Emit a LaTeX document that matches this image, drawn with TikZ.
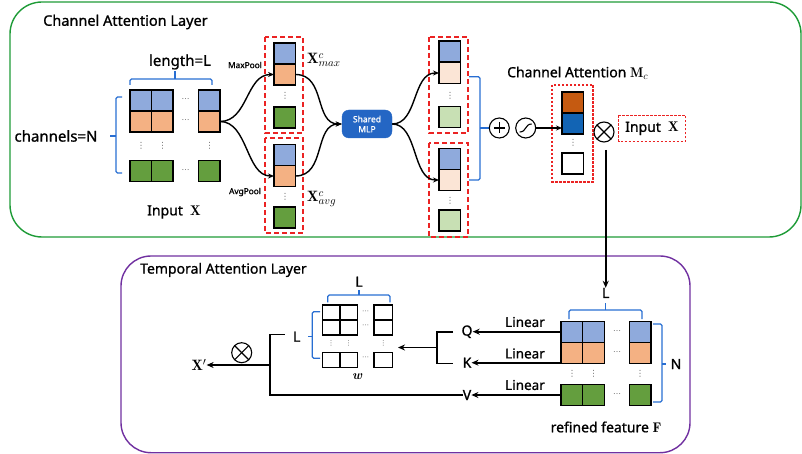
\documentclass[tikz,border=0pt]{standalone}
\usepackage{fontspec}
\setsansfont{Noto Sans}[FakeBold=1]
\newfontfamily\labelfont{Noto Sans}[FakeBold=1]
\newfontfamily\dotfont{DejaVu Sans}
\usetikzlibrary{arrows.meta,calc}

\definecolor{cblue}{RGB}{143,170,220}
\definecolor{corange}{RGB}{244,177,131}
\definecolor{cgreen}{RGB}{100,158,62}
\definecolor{lpeach}{RGB}{251,229,214}
\definecolor{lgreen}{RGB}{200,224,180}
\definecolor{dorange}{RGB}{197,90,17}
\definecolor{dblue}{RGB}{18,100,180}
\definecolor{mlpblue}{RGB}{36,102,196}
\definecolor{brblue}{RGB}{40,110,210}
\definecolor{frgreen}{RGB}{30,155,55}
\definecolor{frpurple}{RGB}{112,48,160}
\definecolor{dashred}{RGB}{235,35,35}
\definecolor{dotgray}{RGB}{110,110,110}

\tikzset{
  cell/.style={draw=black, line width=1.4pt, minimum width=21.5pt, minimum height=21pt,
    inner sep=0pt, outer sep=0pt, anchor=north west},
  acell/.style={draw=black, line width=1.3pt, minimum width=17.3pt, minimum height=15pt,
    inner sep=0pt, outer sep=0pt, anchor=north west},
  hdots/.style={font=\dotfont\fontsize{8}{8}\selectfont, text=dotgray, inner sep=0pt},
  vdotsn/.style={font=\dotfont\fontsize{8.5}{9}\selectfont, text=dotgray, inner sep=0pt},
  frame/.style={line width=1.4pt, rounded corners=32pt},
  poolbox/.style={draw=dashred, line width=1.3pt, dash pattern=on 5pt off 3pt},
  mcbox/.style={color=dashred, line width=1.2pt, dash pattern=on 2.5pt off 1.5pt},
  bracket/.style={draw=brblue, line width=1.3pt, rounded corners=1.5pt},
  flow/.style={line width=1.4pt, -{Stealth[length=6pt,width=5pt]}},
  thickflow/.style={line width=1.8pt, -{Stealth[length=7pt,width=6pt]}},
  wire/.style={line width=1.6pt},
  opline/.style={draw=black, line width=1.1pt},
  lbl/.style={font=\labelfont\fontsize{14}{16}\selectfont, inner sep=0pt},
  small/.style={font=\labelfont\fontsize{8.3}{9}\selectfont, inner sep=0pt},
  op/.style={circle, draw=black, line width=1.1pt, minimum size=20pt, inner sep=0pt},
}

\begin{document}
\begin{tikzpicture}[x=1pt,y=-1pt]
\useasboundingbox (0,0) rectangle (802,454);

% ---------------- Channel attention layer ----------------
\draw[frame, draw=frgreen] (10,2) rectangle (801,237);
\node[lbl, anchor=west, font=\labelfont\fontsize{14.5}{16}\selectfont] (catitle) at (43,22) {Channel Attention Layer};

% input tensor X
\foreach \nm/\x in {a/130, b/151.5, c/198.5} {
  \node[cell, fill=cblue]   (x\nm1) at (\x,90) {};
  \node[cell, fill=corange] (x\nm2) at (\x,111) {};
  \node[cell, fill=cgreen]  (x\nm3) at (\x,160.5) {};
}
\foreach \y in {100.5,121.5,171} \node[hdots] at (185.5,\y) {⋯};
\foreach \x in {141,162.5,209.5} \node[vdotsn] at (\x,146) {⋮};

\draw[bracket] (130,85) -- (130,79) -- (212,79) -- (212,85);
\draw[bracket] (175,79) -- (175,71);
\node[lbl, font=\labelfont\fontsize{15}{16}\selectfont] (lenlbl) at (180,62) {length=L};
\draw[bracket] (122,97) -- (116,97) -- (116,173) -- (122,173);
\draw[bracket] (116,136) -- (110,136);
\node[lbl, font=\labelfont\fontsize{15}{16}\selectfont] (chlbl) at (56,136) {channels=N};
\node[lbl] (inlbl) at (174,212) {Input\ \ $\mathbf{X}$};

% pooled vectors
\draw[poolbox] (265,37) rectangle (303,133);
\node[cell, fill=cblue]   (m1) at (274,43) {};
\node[cell, fill=corange] (m2) at (274,64) {};
\node[vdotsn] at (285,96) {⋮};
\node[cell, fill=cgreen]  (m3) at (274,107) {};

\draw[poolbox] (265,138) rectangle (303,233);
\node[cell, fill=cblue]   (g1) at (274,144.5) {};
\node[cell, fill=corange] (g2) at (274,165.5) {};
\node[vdotsn] at (285,197) {⋮};
\node[cell, fill=cgreen]  (g3) at (274,207) {};

\node[small] (maxlbl) at (245,65) {MaxPool};
\node[small] (avglbl) at (245,192) {AvgPool};
\node[inner sep=0pt, font=\fontsize{15}{16}\selectfont, anchor=west] (xmax) at (307,60) {$\mathbf{X}^{c}_{max}$};
\node[inner sep=0pt, font=\fontsize{15}{16}\selectfont, anchor=west] (xavg) at (307,199) {$\mathbf{X}^{c}_{avg}$};

\draw[flow] (xc2.east) .. controls (248,121.5) and (246,74.5) .. (m2.west);
\draw[flow] (xc2.east) .. controls (248,121.5) and (246,176) .. (g2.west);

% shared MLP
\node[draw=mlpblue, fill=mlpblue, rounded corners=7pt, minimum width=50pt, minimum height=28pt,
  inner sep=0pt, text=white, align=center, font=\labelfont\fontsize{8.5}{10}\selectfont] (mlp) at (367,124) {Shared\\MLP};
\draw[flow] (m2.east) .. controls (326,74.5) and (314,124) .. (mlp.west);
\draw[flow] (g2.east) .. controls (326,176) and (314,124) .. (mlp.west);

% MLP outputs
\draw[poolbox] (429,37) rectangle (468,133);
\node[cell, fill=cblue]  (p1) at (439,41) {};
\node[cell, fill=lpeach] (p2) at (439,62.5) {};
\node[vdotsn] at (450,95.5) {⋮};
\node[cell, fill=lgreen] (p3) at (439,106.5) {};

\draw[poolbox] (429,143) rectangle (468,237);
\node[cell, fill=cblue]  (q1) at (439,148.5) {};
\node[cell, fill=lpeach] (q2) at (439,169.5) {};
\node[vdotsn] at (450,200.5) {⋮};
\node[cell, fill=lgreen] (q3) at (439,210) {};

\draw[flow] (mlp.east) .. controls (418,124) and (412,73) .. (p2.west);
\draw[flow] (mlp.east) .. controls (418,124) and (412,180) .. (q2.west);

\draw[bracket] (469,76.7) -- (480,76.7) -- (480,180) -- (469,180);
\draw[bracket] (480,128) -- (489,128);

% sum, sigmoid
\node[op] (plus) at (499.3,128) {};
\draw[opline] ($(plus)+(-5.5,0)$) -- ($(plus)+(5.5,0)$);
\draw[opline] ($(plus)+(0,-5.5)$) -- ($(plus)+(0,5.5)$);
\node[op] (sig) at (525.7,128) {};
\draw[opline] ($(sig)+(-6,4)$) .. controls ($(sig)+(1,4)$) and ($(sig)+(-1,-4)$) .. ($(sig)+(6,-4)$);

% channel attention map and the dotted frame of the input it scales
\draw[mcbox] (552,85) rectangle (593,182);
\draw[mcbox] (618.5,115.5) rectangle (685.5,141.5);
\node[lbl, anchor=west] (mclbl) at (507,73) {Channel Attention $\mathbf{M}_c$};
\node[cell, fill=dorange] (c1) at (562,92) {};
\node[cell, fill=dblue]   (c2) at (562,113) {};
\node[vdotsn] at (573,143) {⋮};
\node[cell, fill=white]   (c3) at (562,153) {};
\draw[flow] (sig.east) -- (c2.west |- sig.east);

% re-weighting of the input
\node[lbl] (inx) at (652,128.5) {Input\ \ $\mathbf{X}$};
\node[op] (mul1) at (604,132) {};
\draw[opline] ($(mul1)+(-7.07,-7.07)$) -- ($(mul1)+(7.07,7.07)$);
\draw[opline] ($(mul1)+(-7.07,7.07)$) -- ($(mul1)+(7.07,-7.07)$);

% ---------------- Temporal attention layer ----------------
\draw[frame, draw=frpurple, rounded corners=30pt] (121,256) rectangle (690,452.7);
\node[lbl, anchor=west] (tatitle) at (140,270) {Temporal Attention Layer};

% refined feature F
\foreach \nm/\x in {a/561, b/582.7, c/629.3} {
  \node[cell, fill=cblue, minimum width=21.7pt]   (f\nm1) at (\x,321.5) {};
  \node[cell, fill=corange, minimum width=21.7pt] (f\nm2) at (\x,342.5) {};
  \node[cell, fill=cgreen, minimum width=21.7pt]  (f\nm3) at (\x,384.5) {};
}
\foreach \y in {332,353,395} \node[hdots] at (617,\y) {⋯};
\foreach \x in {572,593.5,640} \node[vdotsn] at (\x,373.5) {⋮};

\draw[bracket] (569,319) -- (569,310) -- (642,310) -- (642,319);
\draw[bracket] (605.7,310) -- (605.7,303);
\node[lbl] (flen) at (605.7,293) {L};
\draw[bracket] (653,324) -- (662,324) -- (662,402) -- (653,402);
\draw[bracket] (662,364) -- (666,364);
\node[lbl] (fch) at (676,364) {N};
\node[lbl] (flbl) at (606,427) {refined feature $\mathbf{F}$};

\coordinate (drop) at (605.7,150);
\draw[thickflow] (drop) -- (flen.north);

% Q, K, V projections
\node[lbl] (Q) at (467,331.7) {Q};
\node[lbl] (K) at (467,362.7) {K};
\node[lbl] (V) at (467,395) {V};
\draw[thickflow] (fa1.west |- Q) -- (Q.east);
\draw[thickflow] (fa2.west |- K) -- (K.east);
\draw[thickflow] (fa3.west |- V) -- (V.east);
\node[lbl, font=\labelfont\fontsize{13.5}{14}\selectfont] at (525,322) {Linear};
\node[lbl, font=\labelfont\fontsize{13.5}{14}\selectfont] at (525,353.5) {Linear};
\node[lbl, font=\labelfont\fontsize{13.5}{14}\selectfont] at (525,385) {Linear};

% attention weights w (L x L)
\foreach \nm/\x/\w in {a/322.7/17.3, b/340/17.3, c/374/18.7} {
  \node[acell, minimum width=\w pt] (w\nm1) at (\x,305) {};
  \node[acell, minimum width=\w pt] (w\nm2) at (\x,320) {};
}
\node[acell] (wa3) at (322.7,352.3) {};
\node[acell] (wb3) at (340,352.3) {};
\node[acell, minimum width=18.7pt] (wc3) at (374,352.3) {};
\foreach \y in {311.7,326,358.3} \node[hdots, font=\dotfont\fontsize{7}{7}\selectfont] at (365.7,\y) {⋯};
\foreach \x in {331,348.5,383.3} \node[vdotsn, font=\dotfont\fontsize{7}{7}\selectfont] at (\x,343.5) {⋮};

\draw[bracket] (327.7,302.3) -- (327.7,295) -- (390,295) -- (390,302.3);
\draw[bracket] (359,295) -- (359,290);
\node[lbl] (wlen) at (359,281.7) {L};
\draw[bracket] (320,311.7) -- (312.3,311.7) -- (312.3,358.3) -- (320,358.3);
\draw[bracket] (312.3,336.7) -- (308,336.7);
\node[lbl] (wrow) at (296.7,336.7) {L};
\node[inner sep=0pt, font=\rmfamily\bfseries\itshape\fontsize{13}{14}\selectfont] (wlbl) at (357,377) {w};

% Q-K join into the weights
\draw[wire] (453,331.7) -- (437,331.7) -- (437,363.3) -- (453,363.3);
\coordinate (qk) at (437,347.5);
\draw[thickflow] (qk) -- (398,347.5);

% V path and output
\draw[wire] (V.west) -- (270,395) -- (270,334.3) -- (285,334.3);
\coordinate (vtap) at (270,365);
\node[inner sep=0pt, font=\fontsize{15}{16}\selectfont] (xout) at (199,365) {$\mathbf{X}'$};
\draw[thickflow] (vtap) -- (xout.east);
\node[op] (mul2) at (241.7,352.7) {};
\draw[opline] ($(mul2)+(-7.07,-7.07)$) -- ($(mul2)+(7.07,7.07)$);
\draw[opline] ($(mul2)+(-7.07,7.07)$) -- ($(mul2)+(7.07,-7.07)$);

\end{tikzpicture}
\end{document}
